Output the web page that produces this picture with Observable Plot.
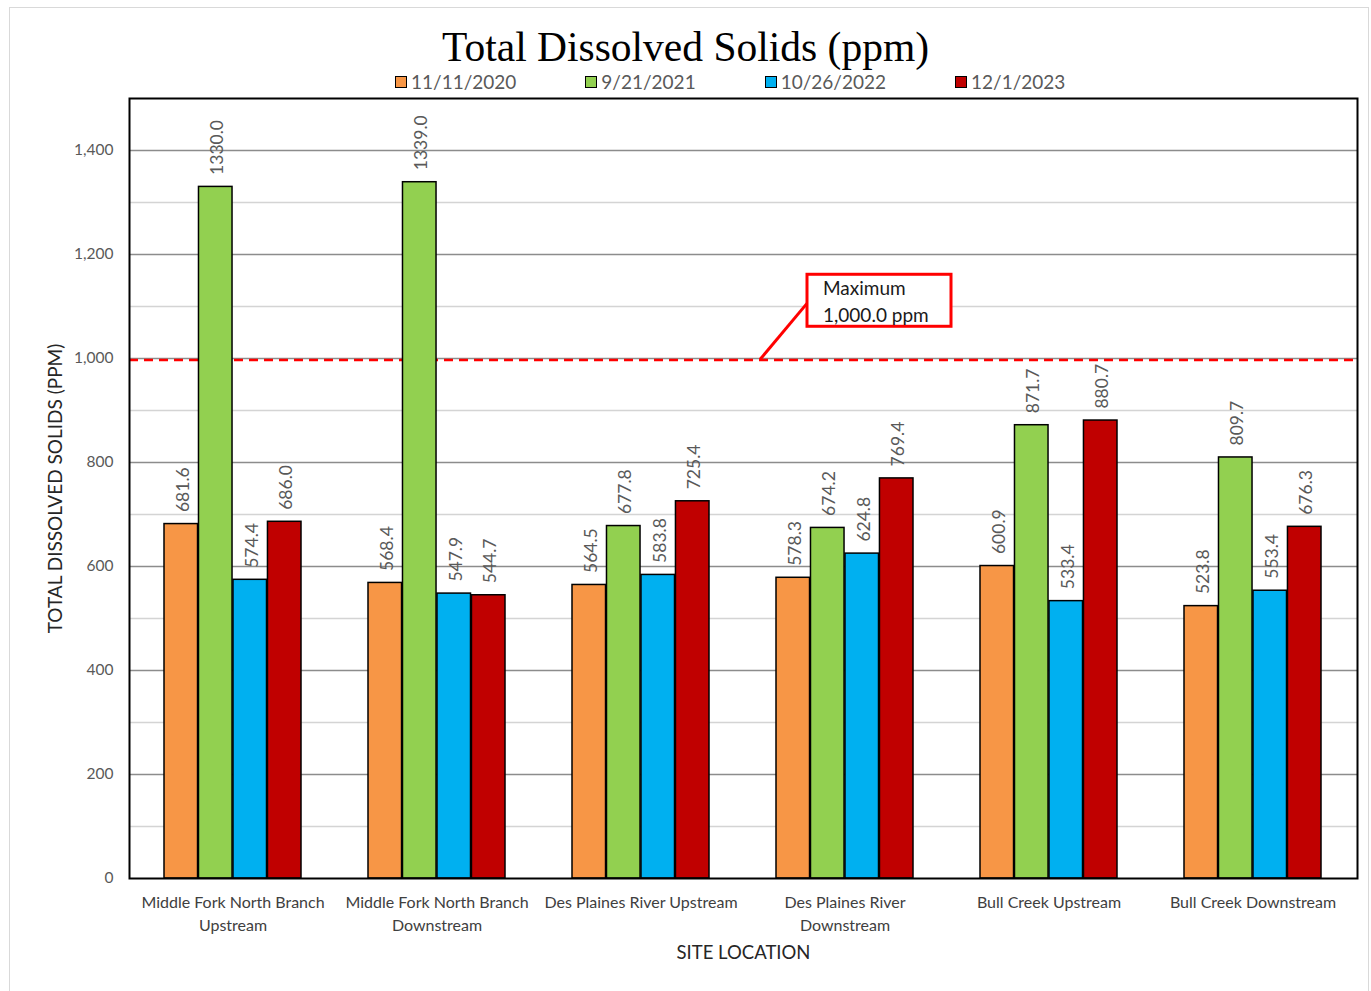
<!DOCTYPE html>
<html>
<head>
<meta charset="utf-8">
<script src="https://cdn.jsdelivr.net/npm/d3@7"></script>
<script src="https://cdn.jsdelivr.net/npm/@observablehq/plot@0.6"></script>
<style>
  body { margin: 0; background: #fff; }
  #wrap { position: relative; width: 1371px; height: 991px; overflow: hidden; background: #fff; }
  #border { position: absolute; left: 9px; top: 7px; width: 1360px; height: 990px; border: 1.5px solid #d9d9d9; box-sizing: border-box; pointer-events: none; }
  #title { position: absolute; left: 0; top: 27px; width: 1371px; text-align: center; font-family: "Liberation Serif", serif; font-size: 41.5px; line-height: 1; color: #000; }
  #legend { position: absolute; left: 395px; top: 72px; display: flex; gap: 69px; font-family: Lato, sans-serif; font-size: 19px; line-height: 1; color: #595959; }
  .item { display: flex; align-items: center; }
  .sw { width: 12px; height: 12px; border: 1px solid #000; box-sizing: border-box; margin-right: 4px; }
  #chart { position: absolute; left: 0; top: 0; }
</style>
</head>
<body>
<div id="wrap">
  <div id="chart"></div>
  <div id="title">Total Dissolved Solids (ppm)</div>
  <div id="legend"></div>
  <div id="border"></div>
</div>
<script>
// ---- data ----
const sites = [
  "Middle Fork North Branch Upstream",
  "Middle Fork North Branch Downstream",
  "Des Plaines River Upstream",
  "Des Plaines River Downstream",
  "Bull Creek Upstream",
  "Bull Creek Downstream"
];
const siteTickLabels = [
  "Middle Fork North Branch\nUpstream",
  "Middle Fork North Branch\nDownstream",
  "Des Plaines River Upstream",
  "Des Plaines River\nDownstream",
  "Bull Creek Upstream",
  "Bull Creek Downstream"
];
const dates = ["11/11/2020", "9/21/2021", "10/26/2022", "12/1/2023"];
const colors = ["#F79646", "#92D050", "#00B0F0", "#C00000"];
const values2020 = [681.6, 568.4, 564.5, 578.3, 600.9, 523.8];
const values2021 = [1330.0, 1339.0, 677.8, 674.2, 871.7, 809.7];
const values2022 = [574.4, 547.9, 583.8, 624.8, 533.4, 553.4];
const values2023 = [686.0, 544.7, 725.4, 769.4, 880.7, 676.3];
const yTicks = [0, 200, 400, 600, 800, 1000, 1200, 1400];
const yMinorTicks = [100, 300, 500, 700, 900, 1100, 1300];
const maxLimit = 1000;
const maxLabel = ["Maximum", "1,000.0 ppm"];
const annotationSite = "Des Plaines River Downstream";

const series = [values2020, values2021, values2022, values2023];

// ---- layout ----
const width = 1371, height = 991;
const mL = 129, mR = 14, mT = 98, mB = 113;
const padInner = 0.326, padOuter = padInner / 2;
const step = (width - mL - mR) / sites.length;
const bw = step * (1 - padInner);
const sub = bw / dates.length;

// legend
const legend = document.getElementById("legend");
dates.forEach((d, i) => {
  const it = document.createElement("div");
  it.className = "item";
  it.innerHTML = `<span class="sw" style="background:${colors[i]}"></span><span>${d}</span>`;
  legend.appendChild(it);
});

const marks = [
  Plot.ruleY(yMinorTicks, {stroke: "#d4d4d4", strokeWidth: 1.3}),
  Plot.ruleY(yTicks.filter(d => d > 0), {stroke: "#8c8c8c", strokeWidth: 1.3}),
  Plot.ruleY([maxLimit], {stroke: "#ff0000", strokeWidth: 2.5, strokeDasharray: "9,6", dy: 1.5})
];

series.forEach((vals, i) => {
  const data = sites.map((s, j) => ({site: s, value: vals[j]}));
  marks.push(Plot.barY(data, {
    x: "site", y: "value", fill: colors[i], stroke: "#000", strokeWidth: 1.5,
    insetLeft: i * sub, insetRight: (dates.length - 1 - i) * sub
  }));
  marks.push(Plot.text(data, {
    x: "site", y: "value", text: d => d.value.toFixed(1),
    rotate: -90, textAnchor: "start", lineAnchor: "middle",
    dx: (i - (dates.length - 1) / 2) * sub + 2, dy: -12,
    fill: "#595959", fontSize: 17.5
  }));
});

marks.push(
  Plot.frame({stroke: "#000", strokeWidth: 2}),
  Plot.axisY({ticks: yTicks, tickFormat: d3.format(","), tickSize: 0, tickPadding: 16, fontSize: 15.5, fill: "#595959", label: null}),
  Plot.axisX({tickSize: 0, tickPadding: 14, fontSize: 16, fill: "#404040", label: null, lineHeight: 1.4,
    tickFormat: d => siteTickLabels[sites.indexOf(d)]}),
  Plot.text(["TOTAL DISSOLVED SOLIDS (PPM)"], {frameAnchor: "left", textAnchor: "middle", rotate: -90, dx: -74, fontSize: 19, fill: "#262626"}),
  Plot.text(["SITE LOCATION"], {frameAnchor: "bottom", textAnchor: "middle", dy: 80, fontSize: 18.5, fill: "#262626"})
);

const plot = Plot.plot({
  width, height,
  marginLeft: mL, marginRight: mR, marginTop: mT, marginBottom: mB,
  style: {fontFamily: "Lato, sans-serif", background: "#fff", overflow: "visible"},
  x: {domain: sites, paddingInner: padInner, paddingOuter: padOuter},
  y: {domain: [0, 1500]},
  marks
});
document.getElementById("chart").appendChild(plot);

// annotation using the plot's scales
const xs = plot.scale("x"), ys = plot.scale("y");
const svg = d3.select(plot);
const bandStart = xs.apply(annotationSite);
const boxX = bandStart + 31, boxW = 144;
const boxTop = ys.apply(1161), boxBot = ys.apply(1061);
const g = svg.append("g");
g.append("line")
  .attr("x1", bandStart - 16).attr("y1", ys.apply(maxLimit) + 1.5)
  .attr("x2", boxX).attr("y2", ys.apply(1105))
  .attr("stroke", "#ff0000").attr("stroke-width", 3);
g.append("rect")
  .attr("x", boxX).attr("y", boxTop).attr("width", boxW).attr("height", boxBot - boxTop)
  .attr("fill", "#fff").attr("stroke", "#ff0000").attr("stroke-width", 3);
maxLabel.forEach((t, k) => {
  g.append("text").attr("x", boxX + 16).attr("y", boxTop + 21 + k * 27)
    .attr("text-anchor", "start")
    .attr("font-family", "Lato, sans-serif").attr("font-size", 19).attr("fill", "#1a1a1a")
    .text(t);
});
</script>
</body>
</html>
